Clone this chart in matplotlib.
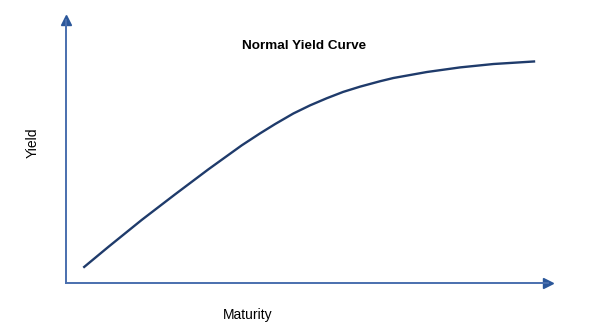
import matplotlib
matplotlib.use("Agg")
from matplotlib import pyplot as plt

# values (arbitrary units, axes run 0..~100)
maturity = [3.65, 8.78, 15.64, 22.48, 29.31, 36.17, 39.92, 43.0, 46.76, 50.18,
            53.61, 56.96, 60.45, 64.55, 67.28, 74.14, 80.97, 87.81, 96.37]
yield_pct = [5.81, 13.53, 23.59, 33.10, 42.41, 51.36, 55.80, 59.26, 63.21, 66.23,
             68.88, 71.23, 73.20, 75.21, 76.41, 78.64, 80.36, 81.62, 82.59]

plt.rcParams['font.family'] = ['Liberation Sans', 'DejaVu Sans']

W, H = 603, 332
fig = plt.figure(figsize=(W / 100, H / 100), dpi=100)
left, right, bottom, top = 65.5, 548, 283.3, 20
ax = fig.add_axes([left / W, 1 - bottom / H, (right - left) / W, (bottom - top) / H])

axis_col = "#4a6fae"
head_col = "#2b579a"
ax.plot(maturity, yield_pct, color="#1f3b6b", lw=1.7,
        solid_capstyle="butt", solid_joinstyle="round")
ax.set_xlim(0, 99)
ax.set_ylim(0, 98)

for s in ["top", "right"]:
    ax.spines[s].set_visible(False)
for s in ["left", "bottom"]:
    ax.spines[s].set_color(axis_col)
    ax.spines[s].set_linewidth(1.4)
ax.set_xticks([])
ax.set_yticks([])

# arrow heads at the ends of the axes
ax.plot(1, 0, ">", color=head_col, ms=7, transform=ax.transAxes, clip_on=False)
ax.plot(0, 1, "^", color=head_col, ms=7, transform=ax.transAxes, clip_on=False)

fig.text(304 / W, 1 - 46 / H, "Normal Yield Curve", ha="center", va="center",
         fontsize=9.7, fontweight="bold")
fig.text(33 / W, 1 - 143 / H, "Yield", ha="center", va="center", rotation=90, fontsize=10)
fig.text(248 / W, 1 - 315 / H, "Maturity", ha="center", va="center", fontsize=10)

fig.savefig("out.png", dpi=100)
